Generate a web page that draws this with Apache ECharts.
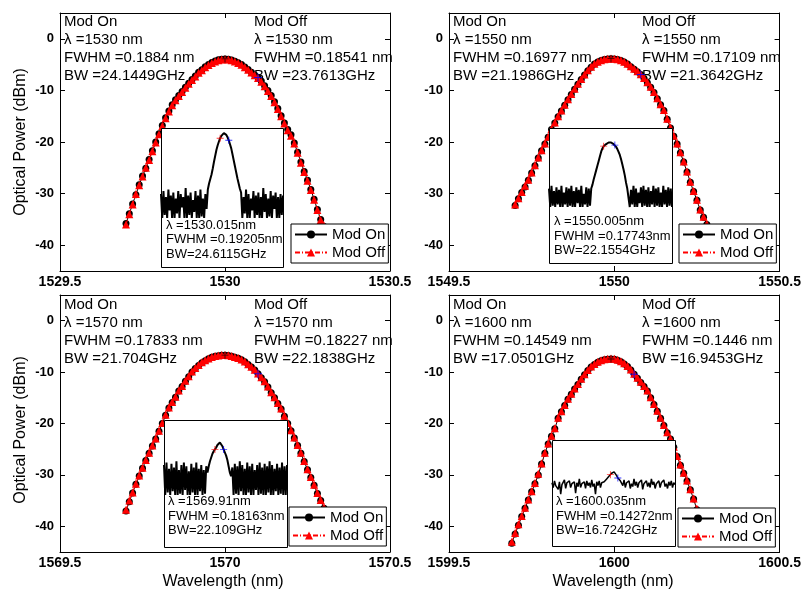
<!DOCTYPE html>
<html><head><meta charset="utf-8">
<script src="https://cdn.jsdelivr.net/npm/echarts@6/dist/echarts.min.js"></script>
<style>html,body{margin:0;padding:0;background:#fff}#c{width:804px;height:593px}</style>
</head><body><div id="c"></div>
<script>
// ---------------- DATA ----------------
const yTicks = [-40, -30, -20, -10, 0];
const xTicks1530 = [1529.5, 1530, 1530.5];
const xTicks1550 = [1549.5, 1550, 1550.5];
const xTicks1570 = [1569.5, 1570, 1570.5];
const xTicks1600 = [1599.5, 1600, 1600.5];

const wl1530 = [1529.70,1529.71,1529.72,1529.73,1529.74,1529.75,1529.76,1529.77,1529.78,1529.79,1529.80,1529.81,1529.82,1529.83,1529.84,1529.85,1529.86,1529.87,1529.88,1529.89,1529.90,1529.91,1529.92,1529.93,1529.94,1529.95,1529.96,1529.97,1529.98,1529.99,1530.00,1530.01,1530.02,1530.03,1530.04,1530.05,1530.06,1530.07,1530.08,1530.09,1530.10,1530.11,1530.12,1530.13,1530.14,1530.15,1530.16,1530.17,1530.18,1530.19,1530.20,1530.21,1530.22,1530.23,1530.24,1530.25,1530.26,1530.27,1530.28,1530.29,1530.30];
const on1530 = [-35.8,-33.9,-32.0,-30.2,-28.3,-26.6,-25.1,-23.4,-21.7,-20.0,-18.4,-16.8,-15.3,-14.0,-12.8,-11.8,-11.0,-10.2,-9.4,-8.6,-7.9,-7.2,-6.5,-6.0,-5.4,-5.0,-4.6,-4.3,-4.05,-3.95,-3.9,-3.95,-4.1,-4.35,-4.65,-5.0,-5.45,-5.95,-6.5,-7.0,-7.5,-8.2,-9.1,-10.0,-11.0,-12.2,-13.5,-14.9,-16.3,-17.6,-18.6,-20.2,-22.0,-23.9,-25.7,-27.4,-29.2,-31.1,-33.1,-35.0,-36.4];
const off1530 = [-36.0,-34.0,-32.1,-30.1,-28.4,-26.7,-25.0,-23.5,-21.8,-20.1,-18.5,-16.9,-15.4,-14.1,-12.9,-11.9,-11.1,-10.3,-9.5,-8.7,-8.0,-7.3,-6.6,-6.1,-5.5,-5.1,-4.7,-4.4,-4.15,-4.0,-3.95,-4.0,-4.15,-4.4,-4.7,-5.05,-5.5,-6.0,-6.55,-7.05,-7.6,-8.3,-9.2,-10.1,-11.1,-12.3,-13.6,-15.0,-16.4,-17.7,-18.8,-20.3,-22.1,-24.0,-25.8,-27.5,-29.3,-31.2,-33.2,-35.1,-36.2];

const wl1550 = [1549.70,1549.71,1549.72,1549.73,1549.74,1549.75,1549.76,1549.77,1549.78,1549.79,1549.80,1549.81,1549.82,1549.83,1549.84,1549.85,1549.86,1549.87,1549.88,1549.89,1549.90,1549.91,1549.92,1549.93,1549.94,1549.95,1549.96,1549.97,1549.98,1549.99,1550.00,1550.01,1550.02,1550.03,1550.04,1550.05,1550.06,1550.07,1550.08,1550.09,1550.10,1550.11,1550.12,1550.13,1550.14,1550.15,1550.16,1550.17,1550.18,1550.19,1550.20,1550.21,1550.22,1550.23,1550.24,1550.25,1550.26,1550.27,1550.28];
const on1550 = [-32.3,-31.0,-29.8,-28.7,-27.4,-26.0,-24.6,-23.1,-21.7,-20.4,-19.1,-17.6,-16.3,-15.1,-14.0,-12.9,-11.8,-10.8,-9.8,-8.8,-7.9,-7.0,-6.2,-5.5,-4.9,-4.5,-4.2,-4.0,-3.9,-3.85,-3.9,-4.0,-4.2,-4.5,-4.9,-5.4,-5.9,-6.4,-6.9,-7.7,-8.5,-9.4,-10.4,-11.6,-12.8,-13.9,-15.6,-17.3,-18.9,-20.4,-22.1,-23.9,-25.8,-27.8,-29.6,-31.3,-33.2,-34.6,-36.0];
const off1550 = [-32.1,-30.9,-29.7,-28.5,-27.3,-25.9,-24.5,-23.0,-21.6,-20.3,-19.0,-17.5,-16.2,-15.0,-13.9,-12.8,-11.7,-10.7,-9.7,-8.7,-7.8,-6.9,-6.1,-5.4,-4.85,-4.45,-4.15,-3.95,-3.85,-3.8,-3.85,-3.95,-4.15,-4.45,-4.85,-5.3,-5.8,-6.3,-6.85,-7.6,-8.4,-9.3,-10.3,-11.5,-12.7,-13.8,-15.5,-17.2,-18.8,-20.3,-22.0,-23.8,-25.7,-27.7,-29.5,-31.2,-33.1,-34.5,-35.9];

const wl1570 = [1569.70,1569.71,1569.72,1569.73,1569.74,1569.75,1569.76,1569.77,1569.78,1569.79,1569.80,1569.81,1569.82,1569.83,1569.84,1569.85,1569.86,1569.87,1569.88,1569.89,1569.90,1569.91,1569.92,1569.93,1569.94,1569.95,1569.96,1569.97,1569.98,1569.99,1570.00,1570.01,1570.02,1570.03,1570.04,1570.05,1570.06,1570.07,1570.08,1570.09,1570.10,1570.11,1570.12,1570.13,1570.14,1570.15,1570.16,1570.17,1570.18,1570.19,1570.20,1570.21,1570.22,1570.23,1570.24,1570.25,1570.26,1570.27,1570.28,1570.29,1570.30];
const on1570 = [-37.0,-35.2,-33.5,-31.8,-30.2,-28.7,-27.2,-25.8,-24.4,-23.0,-21.5,-20.0,-18.4,-17.0,-15.9,-14.9,-13.7,-12.8,-11.8,-10.9,-10.0,-9.3,-8.7,-8.2,-7.8,-7.4,-7.1,-6.9,-6.8,-6.7,-6.7,-6.75,-6.9,-7.1,-7.3,-7.6,-8.0,-8.5,-9.0,-9.6,-10.3,-11.1,-11.9,-12.9,-14.0,-15.0,-16.1,-17.2,-18.6,-20.0,-21.4,-22.8,-24.3,-25.8,-27.4,-29.0,-30.5,-32.0,-33.6,-35.0,-36.5];
const off1570 = [-36.8,-35.0,-33.4,-31.7,-30.1,-28.6,-27.1,-25.7,-24.3,-22.9,-21.4,-19.9,-18.3,-16.9,-15.8,-14.8,-13.6,-12.7,-11.7,-10.8,-9.9,-9.2,-8.6,-8.1,-7.7,-7.35,-7.05,-6.85,-6.75,-6.65,-6.65,-6.7,-6.85,-7.05,-7.25,-7.55,-7.95,-8.45,-8.95,-9.55,-10.25,-11.0,-11.8,-12.8,-13.9,-14.9,-16.0,-17.1,-18.5,-19.9,-21.3,-22.7,-24.2,-25.7,-27.3,-28.9,-30.4,-31.9,-33.5,-34.9,-36.3];

const wl1600 = [1599.69,1599.70,1599.71,1599.72,1599.73,1599.74,1599.75,1599.76,1599.77,1599.78,1599.79,1599.80,1599.81,1599.82,1599.83,1599.84,1599.85,1599.86,1599.87,1599.88,1599.89,1599.90,1599.91,1599.92,1599.93,1599.94,1599.95,1599.96,1599.97,1599.98,1599.99,1600.00,1600.01,1600.02,1600.03,1600.04,1600.05,1600.06,1600.07,1600.08,1600.09,1600.10,1600.11,1600.12,1600.13,1600.14,1600.15,1600.16,1600.17,1600.18,1600.19,1600.20,1600.21,1600.22,1600.23,1600.24,1600.25];
const on1600 = [-43.3,-41.5,-39.8,-38.1,-36.5,-34.9,-33.3,-31.7,-30.0,-27.9,-25.8,-24.0,-22.5,-21.0,-19.0,-17.7,-16.5,-15.3,-14.3,-13.3,-12.4,-11.4,-10.5,-9.7,-9.0,-8.5,-8.1,-7.8,-7.6,-7.5,-7.45,-7.5,-7.7,-8.0,-8.4,-8.9,-9.6,-10.4,-11.2,-12.0,-12.8,-13.7,-15.0,-16.3,-17.6,-19.0,-20.4,-21.8,-23.0,-24.6,-26.4,-28.1,-29.7,-31.2,-32.9,-34.7,-36.8];
const off1600 = [-43.0,-41.3,-39.6,-38.0,-36.4,-34.8,-33.2,-31.6,-29.8,-27.8,-25.7,-23.9,-22.4,-20.9,-18.9,-17.6,-16.4,-15.2,-14.2,-13.2,-12.3,-11.3,-10.4,-9.6,-8.9,-8.4,-8.0,-7.7,-7.5,-7.4,-7.35,-7.4,-7.6,-7.9,-8.3,-8.8,-9.5,-10.3,-11.1,-11.9,-12.7,-13.6,-14.9,-16.2,-17.5,-18.9,-20.3,-21.7,-22.9,-24.5,-26.3,-28.0,-29.6,-31.1,-32.8,-34.6,-36.6];

// peak (+ black) and FWHM (+ blue) markers on the main spectra [wavelength, dBm]
const peak1530 = [1530.00, -3.9],  fwhm1530 = [1530.10, -7.5];
const peak1550 = [1549.99, -3.85], fwhm1550 = [1550.08, -6.9];
const peak1570 = [1570.00, -6.7],  fwhm1570 = [1570.10, -10.3];
const peak1600 = [1599.99, -7.45], fwhm1600 = [1600.06, -10.4];

// inset spectra (sample index, dBm)
const inset1530 = [-44,-60,-42,-58,-46,-60,-41,-55,-45,-60,-43,-60,-47,-57,-42,-60,-44,-53,-46,-60,-40,-60,-45,-58,-43,-60,-48,-56,-42,-60,-45,-60,-41,-59,-47,-60,-44,-54,
 -41,-37,-34,-31,-27,-22.5,-18.5,-14.5,-11.5,-9,-6.8,-5.2,-4,-3.4,-3.6,-4.6,-6.2,-8.2,-10.8,-13.6,-17.5,-21.5,-25.5,-29.5,-33.5,-37,-40.5,
 -43,-60,-46,-57,-41,-60,-44,-60,-47,-55,-42,-60,-45,-58,-43,-60,-46,-60,-40,-56,-44,-60,-47,-59,-42,-60,-45,-54,-43,-60,-46,-60,-44,-58,-45];
const inset1550 = [-46,-60,-44,-59,-48,-60,-45,-58,-47,-60,-44,-60,-49,-58,-45,-60,-46,-59,-44,-60,-48,-60,-45,-57,-47,-60,-44,-60,-50,-58,-45,-60,-46,-59,
 -46,-43,-39,-35.5,-32,-28.5,-25,-21.5,-18,-15.5,-13.8,-12.9,-12.2,-11.5,-11,-10.8,-11,-11.6,-12.3,-13,-14.3,-16,-18.2,-20.5,-23.8,-27.5,-31.5,-36,-41.5,-46,
 -45,-60,-47,-58,-44,-60,-46,-60,-49,-57,-45,-60,-44,-59,-47,-60,-45,-60,-48,-58,-44,-60,-46,-59,-45,-60,-49,-60,-44,-58,-47,-60,-45,-59,-46,-60];
const inset1570 = [-36,-60,-34,-58,-39,-60,-35,-57,-38,-60,-33,-60,-40,-59,-36,-60,-34,-56,-37,-60,-41,-60,-35,-58,-38,-60,-34,-60,-39,-57,-36,-60,-40,-59,-37,
 -42,-37,-33,-30,-27,-25,-23.5,-22,-20,-18.8,-18,-19,-21,-23.5,-26,-28.5,-32,-37,-42,-45,
 -38,-60,-35,-59,-37,-60,-33,-57,-36,-60,-39,-60,-34,-58,-37,-60,-35,-60,-40,-56,-36,-60,-34,-59,-38,-60,-35,-60,-37,-58,-33,-60,-36,-60,-39,-57,-35,-60,-38,-59,-34,-60,-37,-60,-36];
const inset1600 = [-45,-50,-43,-48,-46,-52,-44,-57,-47,-49,-42,-51,-45,-47,-43,-50,-46,-48,-44,-56,-45,-49,-41,-50,-46,-47,-44,-51,-43,-48,-45,-50,-42,-49,-46,-57,-44,-48,-43,-50,-45,-46,
 -44,-42,-41,-39.5,-38,-36.5,-35,-33.8,-33.5,-35,-37.5,-40,-42,-43,
 -44,-48,-42,-50,-45,-47,-43,-51,-46,-49,-41,-48,-44,-50,-45,-47,-42,-52,-46,-48,-43,-49,-45,-50,-41,-47,-44,-51,-46,-48,-43,-50,-45,-47,-42,-49,-46,-51,-44,-48,-43,-50,-45,-47];
// inset FWHM markers [sample index, dBm]
const insetRed1530 = [48, -6.8],  insetBlue1530 = [55, -8.2];
const insetRed1550 = [44, -13.8], insetBlue1550 = [53, -13];
const insetRed1570 = [41, -23.5], insetBlue1570 = [48, -23.5];
const insetRed1600 = [47, -36.5], insetBlue1600 = [53, -40];

const onText1530 = ['Mod On', 'λ =1530 nm', 'FWHM =0.1884 nm', 'BW =24.1449GHz'];
const offText1530 = ['Mod Off', 'λ =1530 nm', 'FWHM =0.18541 nm', 'BW =23.7613GHz'];
const onText1550 = ['Mod On', 'λ =1550 nm', 'FWHM =0.16977 nm', 'BW =21.1986GHz'];
const offText1550 = ['Mod Off', 'λ =1550 nm', 'FWHM =0.17109 nm', 'BW =21.3642GHz'];
const onText1570 = ['Mod On', 'λ =1570 nm', 'FWHM =0.17833 nm', 'BW =21.704GHz'];
const offText1570 = ['Mod Off', 'λ =1570 nm', 'FWHM =0.18227 nm', 'BW =22.1838GHz'];
const onText1600 = ['Mod On', 'λ =1600 nm', 'FWHM =0.14549 nm', 'BW =17.0501GHz'];
const offText1600 = ['Mod Off', 'λ =1600 nm', 'FWHM =0.1446 nm', 'BW =16.9453GHz'];
const insetText1530 = ['λ =1530.015nm', 'FWHM =0.19205nm', 'BW=24.6115GHz'];
const insetText1550 = ['λ =1550.005nm', 'FWHM =0.17743nm', 'BW=22.1554GHz'];
const insetText1570 = ['λ =1569.91nm', 'FWHM =0.18163nm', 'BW=22.109GHz'];
const insetText1600 = ['λ =1600.035nm', 'FWHM =0.14272nm', 'BW=16.7242GHz'];
const yTitle = 'Optical Power (dBm)';
const xTitle = 'Wavelength (nm)';
const seriesNames = ['Mod On', 'Mod Off'];

// ---------------- LAYOUT ----------------
const FONT = '"Liberation Sans", Arial, sans-serif';
const panels = [
  {wl: wl1530, on: on1530, off: off1530, xt: xTicks1530, peak: peak1530, fwhm: fwhm1530, onT: onText1530, offT: offText1530,
   inset: inset1530, iR: insetRed1530, iB: insetBlue1530, iT: insetText1530, iW: 2,
   grid: [60, 13, 330, 258], onX: 64, offX: 254, tY: [22, 40, 58, 76],
   box: [161, 128, 122, 139], plot: [161, 128, 122, 90], itX: 166, itY: [225, 239.5, 254], leg: [291, 224], yT: [21, 142], xT: null},
  {wl: wl1550, on: on1550, off: off1550, xt: xTicks1550, peak: peak1550, fwhm: fwhm1550, onT: onText1550, offT: offText1550,
   inset: inset1550, iR: insetRed1550, iB: insetBlue1550, iT: insetText1550, iW: 2,
   grid: [449, 13, 332, 258], onX: 453, offX: 642, tY: [22, 40, 58, 76],
   box: [549, 128, 123, 135], plot: [549, 128, 123, 79], itX: 554, itY: [221.5, 236, 250.5], leg: [679, 224], yT: null, xT: null},
  {wl: wl1570, on: on1570, off: off1570, xt: xTicks1570, peak: peak1570, fwhm: fwhm1570, onT: onText1570, offT: offText1570,
   inset: inset1570, iR: insetRed1570, iB: insetBlue1570, iT: insetText1570, iW: 2,
   grid: [60, 295, 330, 257], onX: 64, offX: 254, tY: [305, 323, 341, 359],
   box: [164, 420, 123, 127], plot: [164, 420, 123, 75], itX: 168, itY: [501.5, 516.5, 530.5], leg: [289, 507], yT: [21, 430], xT: [223, 582]},
  {wl: wl1600, on: on1600, off: off1600, xt: xTicks1600, peak: peak1600, fwhm: fwhm1600, onT: onText1600, offT: offText1600,
   inset: inset1600, iR: insetRed1600, iB: insetBlue1600, iT: insetText1600, iW: 1.5,
   grid: [449, 295, 332, 257], onX: 453, offX: 642, tY: [305, 323, 341, 359],
   box: [552, 440, 123, 106], plot: [552, 440, 123, 57], itX: 556, itY: [501.5, 516.5, 530.5], leg: [678, 508], yT: null, xT: [613, 582]}
];
const PLUS = 'path://M3.5,0h1v3.5h3.5v1h-3.5v3.5h-1v-3.5h-3.5v-1h3.5z';

const grids = [], xAxes = [], yAxes = [], series = [], legends = [], graphics = [];
const axLine = {show: true, onZero: false, lineStyle: {color: '#000', width: 1}};
const plain = v => String(v);
panels.forEach((p, i) => {
  grids[i] = {left: p.grid[0], top: p.grid[1], width: p.grid[2], height: p.grid[3], show: false};
  grids[4 + i] = {left: p.plot[0], top: p.plot[1], width: p.plot[2], height: p.plot[3], show: false};
  const xmin = p.xt[0], xmax = p.xt[p.xt.length - 1];
  xAxes[2 * i] = {type: 'value', gridIndex: i, position: 'bottom', min: xmin, max: xmax, interval: 0.5,
    axisLine: axLine, splitLine: {show: false},
    axisTick: {inside: true, length: 5, customValues: p.xt, lineStyle: {color: '#000'}},
    axisLabel: {customValues: p.xt, formatter: plain, color: '#000', fontSize: 14, fontWeight: 'bold', fontFamily: FONT, margin: 4}};
  xAxes[2 * i + 1] = {type: 'value', gridIndex: i, position: 'top', min: xmin, max: xmax, interval: 0.5,
    axisLine: axLine, splitLine: {show: false},
    axisTick: {inside: true, length: 5, customValues: p.xt, lineStyle: {color: '#000'}},
    axisLabel: {show: false}};
  yAxes[2 * i] = {type: 'value', gridIndex: i, position: 'left', min: -45, max: 5,
    axisLine: axLine, splitLine: {show: false},
    axisTick: {inside: true, length: 5, customValues: yTicks, lineStyle: {color: '#000'}},
    axisLabel: {customValues: yTicks, formatter: plain, color: '#000', fontSize: 13, fontWeight: 'bold', fontFamily: FONT, margin: 6}};
  yAxes[2 * i + 1] = {type: 'value', gridIndex: i, position: 'right', min: -45, max: 5,
    axisLine: axLine, splitLine: {show: false},
    axisTick: {inside: true, length: 5, customValues: yTicks, lineStyle: {color: '#000'}},
    axisLabel: {show: false}};
  xAxes[8 + i] = {type: 'category', gridIndex: 4 + i, show: false, boundaryGap: false,
    data: p.inset.map((v, k) => String(k))};
  yAxes[8 + i] = {type: 'value', gridIndex: 4 + i, show: false, min: -60, max: 0};

  series.push({type: 'line', name: seriesNames[0], xAxisIndex: 2 * i, yAxisIndex: 2 * i,
    data: p.wl.map((w, k) => [w, p.on[k]]), symbol: 'circle', symbolSize: 7,
    itemStyle: {color: '#000'}, lineStyle: {color: '#000', width: 1}, z: 2});
  series.push({type: 'line', name: seriesNames[1], xAxisIndex: 2 * i, yAxisIndex: 2 * i,
    data: p.wl.map((w, k) => [w, p.off[k]]), symbol: 'triangle', symbolSize: 8,
    itemStyle: {color: '#ff0000'}, lineStyle: {color: '#ff0000', width: 1, type: [5, 2, 1, 2]}, z: 3});
  series.push({type: 'scatter', name: 'peak' + i, xAxisIndex: 2 * i, yAxisIndex: 2 * i, data: [p.peak],
    symbol: PLUS, symbolSize: 7, itemStyle: {color: '#000'}, z: 4, silent: true});
  series.push({type: 'scatter', name: 'fwhm' + i, xAxisIndex: 2 * i, yAxisIndex: 2 * i, data: [p.fwhm],
    symbol: PLUS, symbolSize: 8, itemStyle: {color: '#0000ff'}, z: 4, silent: true});
  series.push({type: 'line', name: 'inset' + i, xAxisIndex: 8 + i, yAxisIndex: 8 + i, data: p.inset,
    symbol: 'none', lineStyle: {color: '#000', width: p.iW}, z: 20, silent: true});
  series.push({type: 'scatter', name: 'insetR' + i, xAxisIndex: 8 + i, yAxisIndex: 8 + i, data: [p.iR],
    symbol: PLUS, symbolSize: 7, itemStyle: {color: '#ff0000'}, z: 21, silent: true});
  series.push({type: 'scatter', name: 'insetB' + i, xAxisIndex: 8 + i, yAxisIndex: 8 + i, data: [p.iB],
    symbol: PLUS, symbolSize: 7, itemStyle: {color: '#0000ff'}, z: 21, silent: true});

  legends.push({data: seriesNames, left: p.leg[0], top: p.leg[1], orient: 'vertical',
    itemWidth: 32, itemHeight: 10, itemGap: 3, padding: [3, 3, 3, 3], selectedMode: false,
    borderColor: '#000', borderWidth: 1, backgroundColor: '#fff', z: 30,
    textStyle: {fontSize: 15, fontFamily: FONT, color: '#000'}});

  // inset frame
  graphics.push({type: 'rect', z: 10, silent: true,
    shape: {x: p.box[0] + 0.5, y: p.box[1] + 0.5, width: p.box[2], height: p.box[3]},
    style: {fill: '#fff', stroke: '#000', lineWidth: 1}});
  p.iT.forEach((t, k) => graphics.push({type: 'text', z: 30, silent: true, x: p.itX, y: p.itY[k],
    style: {text: t, fill: '#000', font: '13px ' + FONT, textAlign: 'left', textVerticalAlign: 'middle'}}));
  p.onT.forEach((t, k) => graphics.push({type: 'text', z: 1, silent: true, x: p.onX, y: p.tY[k],
    style: {text: t, fill: '#000', font: '15px ' + FONT, textAlign: 'left', textVerticalAlign: 'middle'}}));
  p.offT.forEach((t, k) => graphics.push({type: 'text', z: 1, silent: true, x: p.offX, y: p.tY[k],
    style: {text: t, fill: '#000', font: '15px ' + FONT, textAlign: 'left', textVerticalAlign: 'middle'}}));
  if (p.yT) graphics.push({type: 'text', z: 1, silent: true, x: p.yT[0], y: p.yT[1], rotation: Math.PI / 2,
    style: {text: yTitle, fill: '#000', font: '16px ' + FONT, textAlign: 'center', textVerticalAlign: 'middle'}});
  if (p.xT) graphics.push({type: 'text', z: 1, silent: true, x: p.xT[0], y: p.xT[1],
    style: {text: xTitle, fill: '#000', font: '16px ' + FONT, textAlign: 'center', textVerticalAlign: 'middle'}});
});

const chart = echarts.init(document.getElementById('c'), null, {renderer: 'canvas'});
chart.setOption({
  animation: false,
  backgroundColor: '#fff',
  grid: grids, xAxis: xAxes, yAxis: yAxes, series: series, legend: legends,
  graphic: {elements: graphics}
});
</script>
</body></html>
